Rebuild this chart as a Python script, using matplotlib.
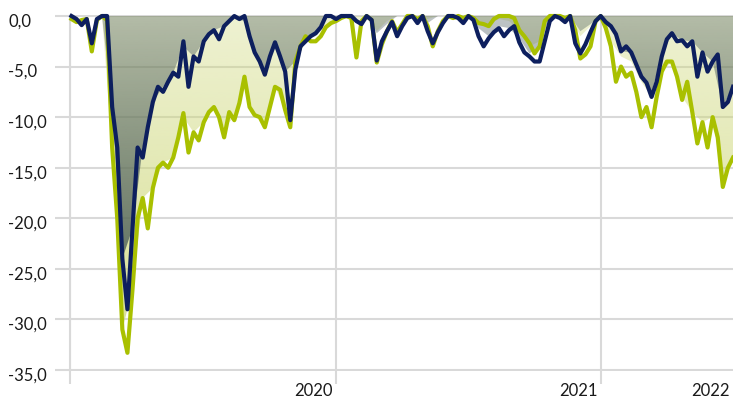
import numpy as np
import pandas as pd
import matplotlib
matplotlib.use("Agg")
import matplotlib.pyplot as plt
import matplotlib.dates as mdates
import matplotlib.transforms as mtransforms

plt.rcParams['font.family'] = ['Lato', 'DejaVu Sans']

# ---- data (drawdown in %, weekly closes from 2020-01-03) ----
line_start = '2020-01-03'
navy_dd = [
    0, -0.3, -0.9, -0.3, -2.7, -0.3, 0, 0, -9, -13,
    -24, -29, -21, -13, -14, -11, -8.5, -7, -7.5, -6.5,
    -5.6, -6, -2.5, -7, -4, -4.5, -2.5, -1.8, -1.4, -2.3,
    -1, -0.5, 0, -0.3, 0, -2, -3.6, -4.5, -5.8, -4,
    -2.6, -4, -5.5, -10.3, -5.3, -3, -2.5, -2, -1.7, -1.1,
    0, 0, -0.3, 0, 0, 0, -0.5, -0.8, 0, -0.4,
    -4.4, -2.5, -1.5, -0.6, -2, -1, -0.2, 0, -0.7, 0,
    -1.5, -2.7, -1.6, -0.7, 0, 0, -0.2, -0.7, 0, -0.4,
    -2, -3, -2.2, -1.6, -1.2, -2, -1.4, -1, -2.6, -3.6,
    -4, -4.5, -4.5, -2.5, -0.5, 0, -0.2, -0.6, 0, -2.7,
    -3.7, -2.8, -1.6, -0.5, 0, -0.6, -1, -1.8, -3.5, -3,
    -3.6, -4.8, -6, -6.6, -8, -6.5, -4, -2.3, -1.7, -2.5,
    -2.4, -3, -2.5, -6, -3.6, -5.5, -4.5, -3.8, -9, -8.5,
    -7,
]
green_dd = [
    -0.3, -0.6, -0.4, -0.3, -3.5, -0.4, 0, -0.4, -13, -20,
    -31, -33.3, -27, -20, -18, -21, -17, -15, -14.5, -15,
    -14, -12, -9.6, -13.5, -11.5, -12.3, -10.5, -9.5, -9, -10,
    -12, -9.5, -10.3, -8.6, -6, -9, -9.8, -10, -11, -9,
    -7, -7.3, -9.3, -11, -4.5, -3, -2, -2.5, -2.5, -2,
    -1.1, -0.7, -0.5, -0.2, 0, -0.2, -4.1, -0.5, 0, -0.4,
    -4.6, -2.8, -1.5, -0.5, -1.6, -0.8, 0, 0, -0.3, 0,
    -1, -3, -1.5, -0.5, 0, -0.2, 0, -0.2, 0, -0.2,
    -0.7, -0.8, -1, -0.3, 0, 0, 0, -0.2, -1.4, -2,
    -2.7, -3.7, -3, -0.5, 0, 0, 0, -0.2, 0, -1.4,
    -4.2, -3.8, -3, -0.5, 0, -1.2, -3, -6.5, -5, -6,
    -5.6, -7.5, -10, -9, -11, -8, -5.5, -4.5, -4.5, -6,
    -8.3, -6.5, -9.5, -12.6, -10.5, -13, -10, -12, -16.9, -15,
    -14,
]

# shaded areas are a coarser (two-weekly) series
area_start = '2020-01-03'
navy_area = [
    0, 0, 0, 0, -9, -24, -21, -13, -8.5, -7,
    -5.6, -3, -4, -2.5, -1.4, -1, -0.3, -0.5, -3.6, -5.5,
    -2.6, -5.5, -4.5, -2.5, -1.5, 0, 0, 0, 0, 0,
    -1.7, -0.8, 0, 0, 0, -0.7, 0, 0, 0, 0,
    -1.2, -2, -1, -1.2, -2.2, -3.7, -3, 0, 0, 0,
    -1.5, -0.8, 0, -1, -3.5, -3.6, -6, -7.5, -4, -1.7,
    -2.4, -2.5, -3.6, -4.5, -9, -7,
]
green_area = [
    0, 0, 0, 0, -13, -31, -27, -18, -17, -14.5,
    -14, -10, -11.5, -10.5, -9, -11, -10, -6.5, -9.8, -10.5,
    -7, -9.3, -4.5, -2, -2, -1, -0.3, 0, -0.5, 0,
    -1.5, -0.5, 0, 0, 0, -0.3, 0, 0, 0, 0,
    -0.5, -0.8, -0.3, -0.5, -1.5, -3, -2.5, 0, 0, 0,
    -2, -1, 0, -2.5, -4, -4.5, -6.5, -8, -5.5, -4.5,
    -8, -9.5, -10.5, -10, -16.5, -14,
]

year_labels = ['2020', '2021', '2022']
year_label_dates = ['2020-12-31', '2021-12-31', '2022-06-30']
year_starts = ['2020-01-01', '2021-01-01', '2022-01-01']
y_ticks = [0, -5, -10, -15, -20, -25, -30, -35]
y_tick_labels = ['0,0', '-5,0', '-10,0', '-15,0', '-20,0', '-25,0', '-30,0', '-35,0']

NAVY = '#0d1f5e'
GREEN = '#a9c000'
GRID = '#d9d9d9'

line_x = mdates.date2num(pd.date_range(line_start, periods=len(navy_dd), freq='7D').values)
area_x = mdates.date2num(pd.date_range(area_start, periods=len(navy_area), freq='14D').values)

fig = plt.figure(figsize=(7.33, 4.0), dpi=100)
ax = fig.add_axes([70 / 733, 29 / 400, 663 / 733, 356 / 400])
ax.set_ylim(-35.1, 0.1)
x0 = mdates.date2num(np.datetime64('2020-01-01'))
x1 = mdates.date2num(np.datetime64('2022-07-01'))
ax.set_xlim(x0, x1)


def gradient_area(xs, ys, rgb, a_top, a_bot, z):
    poly = ax.fill_between(xs, 0, ys, facecolor='none', edgecolor='none', zorder=z)
    n = 256
    img = np.zeros((n, 1, 4))
    img[:, 0, :3] = np.array(rgb) / 255.0
    img[:, 0, 3] = np.linspace(a_top, a_bot, n)
    im = ax.imshow(img, aspect='auto', extent=[xs.min(), xs.max(), -35, 0],
                   origin='upper', zorder=z, interpolation='bilinear')
    im.set_clip_path(poly.get_paths()[0], transform=ax.transData)


gradient_area(area_x, green_area, (205, 215, 120), 0.34, 0.82, 1)
gradient_area(area_x, navy_area, (60, 78, 82), 0.33, 0.92, 2)

ax.plot(line_x, green_dd, color=GREEN, lw=3.0, zorder=3, clip_on=False,
        solid_joinstyle='round')
ax.plot(line_x, navy_dd, color=NAVY, lw=3.0, zorder=4, clip_on=False,
        solid_joinstyle='round')

ax.set_xlim(x0, x1)
ax.set_ylim(-35.1, 0.1)

# axes styling
for s in ['top', 'right', 'bottom']:
    ax.spines[s].set_visible(False)
ax.spines['left'].set_color(GRID)
ax.spines['left'].set_linewidth(1.5)
ax.spines['left'].set_bounds(-35, 0)

ax.set_yticks(y_ticks)
ax.set_yticklabels(y_tick_labels, ha='left')
ax.tick_params(axis='y', length=10.8, width=1.5, color=GRID, labelsize=12,
               pad=33.8, labelcolor='#1a1a1a')
offset = mtransforms.ScaledTranslation(0, -4 / 100, fig.dpi_scale_trans)
for lab in ax.get_yticklabels():
    lab.set_transform(lab.get_transform() + offset)

ax.set_xticks(mdates.date2num(pd.to_datetime(year_starts).values))
ax.set_xticklabels([])
ax.tick_params(axis='x', which='major', length=9.4, width=1.5, color=GRID)
ax.set_xticks(mdates.date2num(pd.to_datetime(year_label_dates).values), minor=True)
ax.set_xticklabels(year_labels, minor=True, ha='right')
ax.tick_params(axis='x', which='minor', length=0, labelsize=12, pad=9,
               labelcolor='#1a1a1a')
xoff = mtransforms.ScaledTranslation(-3 / 100, 0, fig.dpi_scale_trans)
for lab in ax.get_xticklabels(minor=True):
    lab.set_transform(lab.get_transform() + xoff)

ax.grid(True, which='major', color=GRID, lw=1.5, zorder=0)
ax.set_axisbelow(True)

fig.savefig('out.png', dpi=100)
